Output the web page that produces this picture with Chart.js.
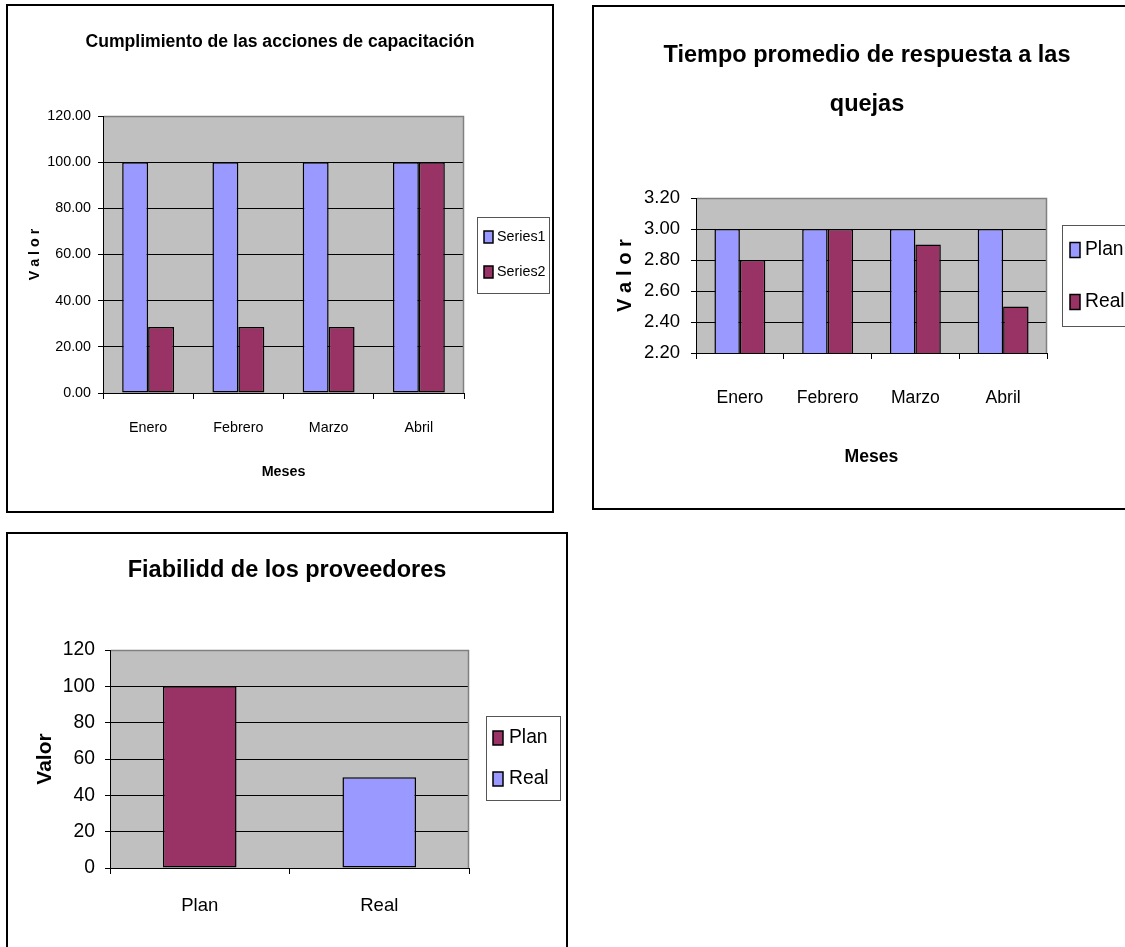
<!DOCTYPE html>
<html>
<head>
<meta charset="utf-8">
<script src="https://cdn.jsdelivr.net/npm/chart.js@4.4.1/dist/chart.umd.min.js"></script>
<style>
  html, body { margin: 0; padding: 0; background: #fff; overflow: hidden; }
  body { width: 1125px; height: 947px; position: relative; }
  .frame { position: absolute; border: 2px solid #000; box-sizing: border-box; overflow: hidden; background: #fff; }
  .frame canvas { position: absolute; left: 0; top: 0; }
</style>
</head>
<body>
<script>
// --- values ---
const meses = ['Enero', 'Febrero', 'Marzo', 'Abril'];

// Cumplimiento de las acciones de capacitación
const capSeries1 = [100, 100, 100, 100];
const capSeries2 = [28.57, 28.57, 28.57, 100];
const capTicks = [0, 20, 40, 60, 80, 100, 120];

// Tiempo promedio de respuesta a las quejas
const quejasPlan = [3.0, 3.0, 3.0, 3.0];
const quejasReal = [2.8, 3.0, 2.9, 2.5];
const quejasTicks = [2.2, 2.4, 2.6, 2.8, 3.0, 3.2];

// Fiabilidd de los proveedores
const provCats = ['Plan', 'Real'];
const provValues = [100, 50];
const provTicks = [0, 20, 40, 60, 80, 100, 120];

const BLUE = '#9999FF';
const WINE = '#993366';

// pick a condensed font if one is installed (the original is Arial Narrow)
function hasFont(name) {
  const c = document.createElement('canvas').getContext('2d');
  c.font = '40px monospace';
  const a = c.measureText('abcdefghiMWl').width;
  c.font = `40px '${name}', monospace`;
  return c.measureText('abcdefghiMWl').width !== a;
}
let FAMILY = "'Liberation Sans', Arial, sans-serif";
let SCALE = 0.84;
if (hasFont('Liberation Sans Narrow')) { FAMILY = "'Liberation Sans Narrow', 'Liberation Sans', sans-serif"; SCALE = 1; }
else if (hasFont('Arial Narrow')) { FAMILY = "'Arial Narrow', sans-serif"; SCALE = 1; }
const fs = (px) => Math.round(px * SCALE * 10) / 10;
Chart.defaults.font.family = FAMILY;
Chart.defaults.color = '#000';

// grey plot background and grey top/right edge, like the Excel plot area
const plotBg = {
  id: 'plotBg',
  beforeDraw(chart) {
    const { ctx, chartArea: a } = chart;
    ctx.save();
    ctx.fillStyle = '#C0C0C0';
    ctx.fillRect(a.left, a.top, a.right - a.left, a.bottom - a.top);
    ctx.restore();
  },
  afterDatasetsDraw(chart) {
    const { ctx, chartArea: a } = chart;
    ctx.save();
    ctx.strokeStyle = '#808080';
    ctx.lineWidth = 1.5;
    ctx.beginPath();
    ctx.moveTo(a.left + 1, a.top + 0.5);
    ctx.lineTo(a.right - 0.5, a.top + 0.5);
    ctx.lineTo(a.right - 0.5, a.bottom);
    ctx.stroke();
    ctx.restore();
  }
};

// boxed legend at a fixed place (Excel style)
const boxLegend = {
  id: 'boxLegend',
  afterDraw(chart, args, o) {
    if (!o.box) return;
    const ctx = chart.ctx;
    const ds = chart.data.datasets;
    let items;
    if (ds.length === 1) {
      items = chart.data.labels.map((l, i) => ({ text: l, color: ds[0].backgroundColor[i] }));
    } else {
      items = ds.map(d => ({ text: d.label, color: d.backgroundColor }));
    }
    const [bx, by, bw, bh] = o.box;
    ctx.save();
    ctx.fillStyle = '#fff';
    ctx.fillRect(bx, by, bw, bh);
    ctx.strokeStyle = '#555';
    ctx.lineWidth = 1;
    ctx.strokeRect(bx + 0.5, by + 0.5, bw, bh);
    ctx.font = `${o.size}px ${FAMILY}`;
    ctx.textBaseline = 'middle';
    ctx.textAlign = 'left';
    items.forEach((it, i) => {
      const y = o.rows[i];
      ctx.fillStyle = it.color;
      ctx.fillRect(o.sqX, y - o.sqH / 2, o.sqW, o.sqH);
      ctx.strokeStyle = '#000';
      ctx.lineWidth = 1.5;
      ctx.strokeRect(o.sqX, y - o.sqH / 2, o.sqW, o.sqH);
      ctx.fillStyle = '#000';
      ctx.fillText(it.text, o.textX, y);
    });
    ctx.restore();
  }
};

// builds one framed bar chart; all cfg coordinates are page pixels
function barChart(cfg) {
  const f = cfg.frame;
  const ox = f.left + 2, oy = f.top + 2;   // canvas origin on the page
  const W = f.width - 4, H = f.height - 4;
  const p = cfg.plot;

  const holder = document.createElement('div');
  holder.className = 'frame';
  holder.style.left = f.left + 'px';
  holder.style.top = f.top + 'px';
  holder.style.width = f.width + 'px';
  holder.style.height = f.height + 'px';
  const canvas = document.createElement('canvas');
  canvas.width = W;
  canvas.height = H;
  canvas.style.width = W + 'px';
  canvas.style.height = H + 'px';
  holder.appendChild(canvas);
  document.body.appendChild(holder);

  const yw = p.left - ox;          // room for y labels + title
  const xh = oy + H - p.bottom;    // room for x labels + title
  const rw = ox + W - p.right;     // room kept for the legend

  const t = cfg.title;
  const tSize = fs(t.size);
  const tLine = t.gap;
  const tTop = (t.y - oy) - tLine / 2;
  const tBottom = (p.top - oy) - tTop - tLine * t.text.length;

  const tl = 5;
  const xSize = fs(cfg.xTicks.size);
  const xPad = cfg.xTicks.y - p.bottom - 6 - xSize * 0.6;
  const ySize = fs(cfg.yTicks.size);
  const yPad = p.left - tl - cfg.yTicks.right;

  const yT = cfg.yTitle;
  const yTSize = fs(yT.size);
  const yTPad = (yT.x - ox) - yTSize * 0.6;

  let xTitle = { display: false };
  if (cfg.xTitle) {
    const s = fs(cfg.xTitle.size);
    xTitle = {
      display: true, text: cfg.xTitle.text, color: '#000',
      font: { size: s, weight: 'bold', lineHeight: 1.2 },
      padding: { top: 0, bottom: (oy + H) - cfg.xTitle.y - s * 0.6 }
    };
  }

  const lg = cfg.legend;
  const ticks = cfg.ticks;

  return new Chart(canvas, {
    type: 'bar',
    data: { labels: cfg.labels, datasets: cfg.datasets },
    options: {
      responsive: false,
      animation: false,
      events: [],
      layout: { padding: 0 },
      datasets: { bar: { categoryPercentage: cfg.catPct, barPercentage: 1 } },
      plugins: {
        legend: { display: false },
        tooltip: { enabled: false },
        title: {
          display: true, text: t.text, color: '#000',
          font: { size: tSize, weight: 'bold', lineHeight: tLine / tSize },
          padding: { top: tTop, bottom: tBottom }
        },
        boxLegend: {
          box: [lg.box[0] - ox, lg.box[1] - oy, lg.box[2], lg.box[3]],
          rows: lg.rows.map(r => r - oy),
          sqX: lg.sqX - ox, sqW: lg.sqW, sqH: lg.sqH,
          textX: lg.textX - ox, size: fs(lg.size)
        }
      },
      scales: {
        x: {
          grid: { offset: true, drawOnChartArea: false, color: '#000', tickLength: 6, lineWidth: 1 },
          border: { color: '#000', width: 1 },
          ticks: { color: '#000', font: { size: xSize, lineHeight: 1.2 }, padding: xPad, maxRotation: 0, autoSkip: false },
          title: xTitle,
          afterFit: (s) => { s.height = xh; }
        },
        y: {
          min: ticks[0],
          max: ticks[ticks.length - 1],
          afterBuildTicks: (s) => { s.ticks = ticks.map(v => ({ value: v })); },
          grid: { color: '#000', tickLength: tl, lineWidth: 1 },
          border: { color: '#000', width: 1 },
          ticks: { color: '#000', font: { size: ySize }, padding: yPad, callback: (v) => v.toFixed(cfg.decimals) },
          title: {
            display: true, text: yT.text, color: '#000',
            font: { size: yTSize, weight: 'bold', lineHeight: 1.2 },
            padding: { top: yTPad, bottom: 0 }
          },
          afterFit: (s) => { s.width = yw; }
        },
        legendRoom: {
          type: 'linear', position: 'right', display: true,
          grid: { display: false }, border: { display: false }, ticks: { display: false },
          afterFit: (s) => { s.width = rw; }
        }
      }
    },
    plugins: [plotBg, boxLegend]
  });
}

const barStyle = { borderColor: '#000', borderWidth: 1.5, borderSkipped: false };

barChart({
  frame: { left: 6, top: 4, width: 548, height: 509 },
  plot: { left: 103, top: 116, right: 464, bottom: 393 },
  title: { text: ['Cumplimiento de las acciones de capacitación'], size: 21, gap: 25, y: 42 },
  labels: meses,
  datasets: [
    { label: 'Series1', data: capSeries1, backgroundColor: BLUE, ...barStyle },
    { label: 'Series2', data: capSeries2, backgroundColor: WINE, ...barStyle }
  ],
  ticks: capTicks,
  decimals: 2,
  catPct: 0.575,
  yTicks: { size: 17, right: 91 },
  xTicks: { size: 17, y: 428 },
  yTitle: { text: 'V a l o r', size: 17, x: 35 },
  xTitle: { text: 'Meses', size: 17, y: 472 },
  legend: { box: [477, 217, 72, 76], rows: [237, 272], sqX: 484, sqW: 9, sqH: 12, textX: 497, size: 17 }
});

barChart({
  frame: { left: 592, top: 5, width: 550, height: 505 },
  plot: { left: 696, top: 198, right: 1047, bottom: 353 },
  title: { text: ['Tiempo promedio de respuesta a las', 'quejas'], size: 28, gap: 49, y: 56 },
  labels: meses,
  datasets: [
    { label: 'Plan', data: quejasPlan, backgroundColor: BLUE, ...barStyle },
    { label: 'Real', data: quejasReal, backgroundColor: WINE, ...barStyle }
  ],
  ticks: quejasTicks,
  decimals: 2,
  catPct: 0.58,
  yTicks: { size: 22, right: 680 },
  xTicks: { size: 21, y: 398 },
  yTitle: { text: 'V a l o r', size: 24, x: 625 },
  xTitle: { text: 'Meses', size: 21, y: 457 },
  legend: { box: [1062, 225, 90, 101], rows: [250, 302], sqX: 1070, sqW: 10, sqH: 15, textX: 1085, size: 23 }
});

barChart({
  frame: { left: 6, top: 532, width: 562, height: 430 },
  plot: { left: 110, top: 650, right: 469, bottom: 868 },
  title: { text: ['Fiabilidd de los proveedores'], size: 28, gap: 34, y: 571 },
  labels: provCats,
  datasets: [
    { label: 'Fiabilidd', data: provValues, backgroundColor: [WINE, BLUE], ...barStyle }
  ],
  ticks: provTicks,
  decimals: 0,
  catPct: 0.41,
  yTicks: { size: 23, right: 95 },
  xTicks: { size: 22, y: 906 },
  yTitle: { text: 'Valor', size: 25, x: 45 },
  xTitle: null,
  legend: { box: [486, 716, 74, 84], rows: [738, 779], sqX: 493, sqW: 10, sqH: 14, textX: 509, size: 23 }
});
</script>
</body>
</html>
